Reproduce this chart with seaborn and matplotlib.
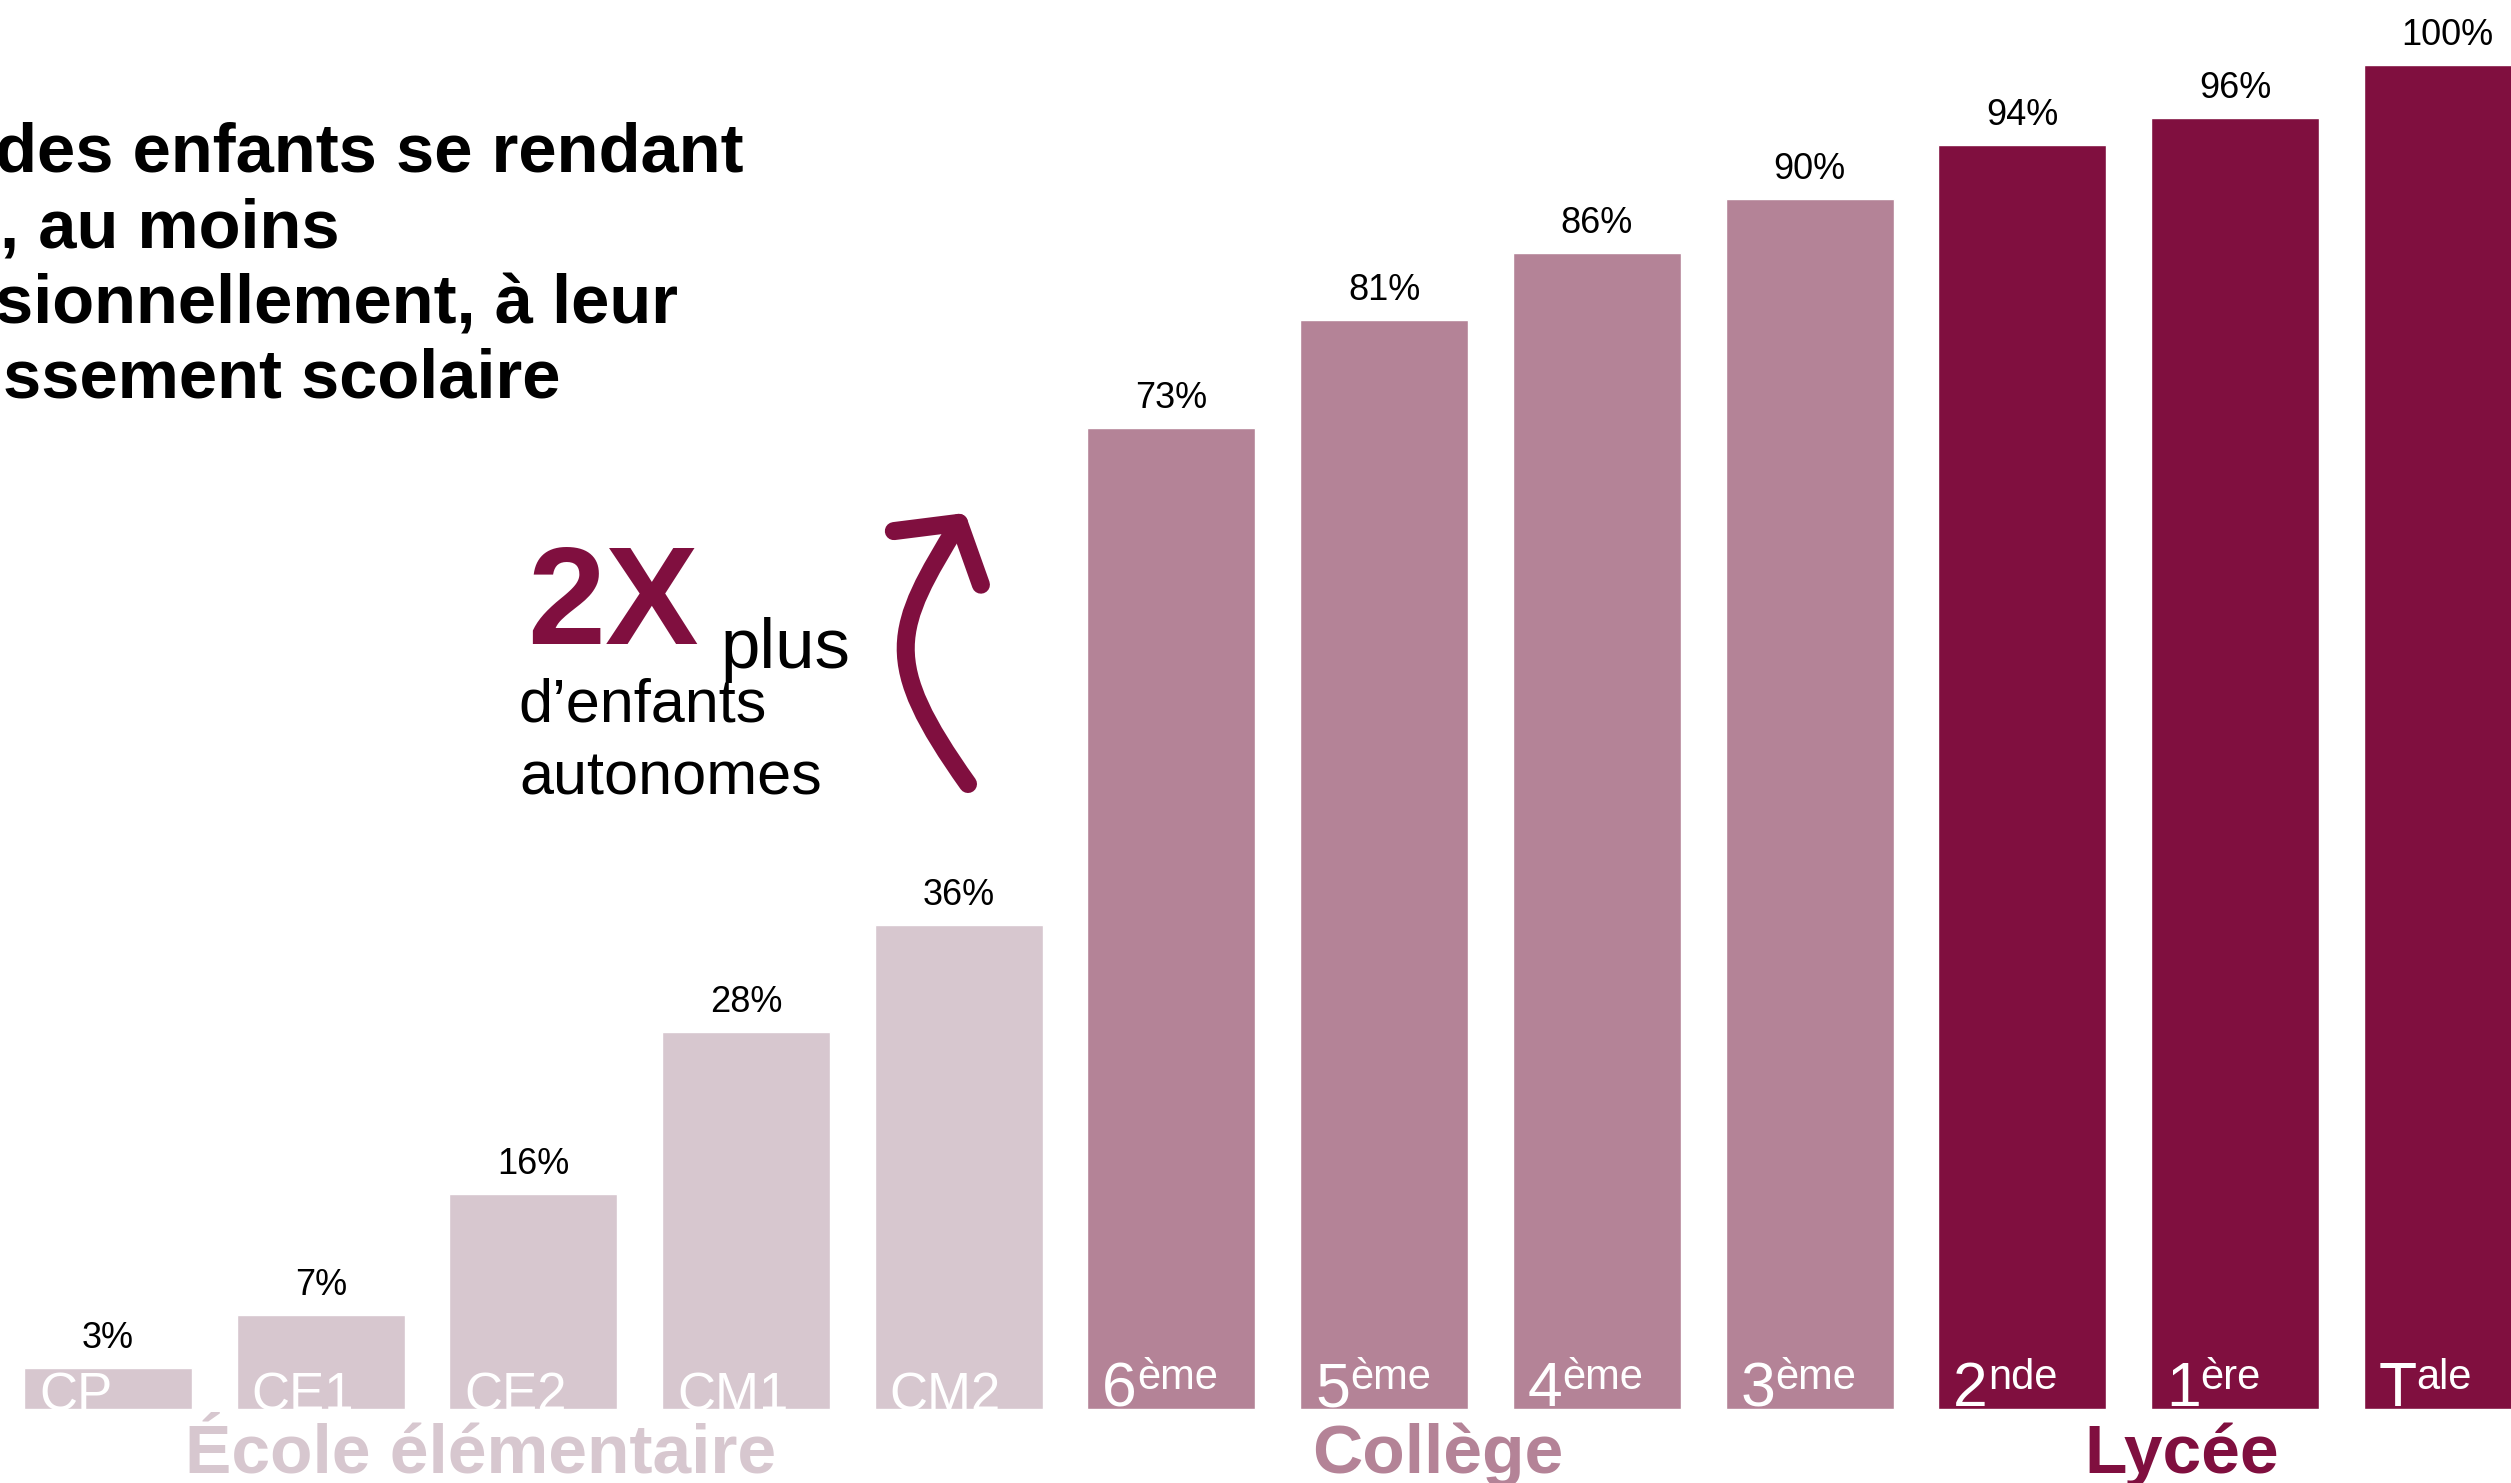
import matplotlib
matplotlib.use("Agg")
import matplotlib.pyplot as plt
from matplotlib.patches import FancyArrowPatch
from matplotlib.path import Path
import seaborn as sns
import pandas as pd

# ---------------- data ----------------
grades = ["CP", "CE1", "CE2", "CM1", "CM2", "6ème", "5ème", "4ème", "3ème",
          "2nde", "1ère", "Tale"]
grade_base = ["CP", "CE1", "CE2", "CM1", "CM2", "6", "5", "4", "3", "2", "1", "T"]
grade_sup = ["", "", "", "", "", "ème", "ème", "ème", "ème", "nde", "ère", "ale"]
values = [3, 7, 16, 28, 36, 73, 81, 86, 90, 94, 96, 100]
groups = ["École élémentaire"] * 5 + ["Collège"] * 4 + ["Lycée"] * 3
group_names = ["École élémentaire", "Collège", "Lycée"]
group_colors = ["#D7C7CF", "#B48397", "#800F3F"]
title_lines = ["des enfants se rendant", ", au moins",
               "sionnellement, à leur", "ssement scolaire"]
callout_big = "2X"
callout_lines = ["plus", "d’enfants", "autonomes"]

# ---------------- style ----------------
sns.set_theme(style="white")
plt.rcParams["font.family"] = ["Liberation Sans", "DejaVu Sans"]

W, H = 2511, 1483
fig = plt.figure(figsize=(W / 100, H / 100), dpi=100)
ax = fig.add_axes([0, 0, 1, 1])

df = pd.DataFrame({"grade": grades, "value": values, "group": groups})
palette = dict(zip(group_names, group_colors))
sns.barplot(data=df, x="grade", y="value", hue="group", palette=palette,
            dodge=False, width=0.79, saturation=1, legend=False, ax=ax)

ax.set_xlim(-0.508, 11.298)
px_per_unit = 13.44
y0_from_bottom = 74.3
ax.set_ylim(-y0_from_bottom / px_per_unit, (H - y0_from_bottom) / px_per_unit)
ax.axis("off")


def fx(px):
    return px / W


def fy(py):
    return 1 - py / H


# value labels
for i, v in enumerate(values):
    ax.annotate(f"{v}%", xy=(i, v), xytext=(0, 14.4), textcoords="offset points",
                ha="center", va="baseline", fontsize=26, color="black")

# grade labels inside bars (white, superscripts)
half_w = 0.79 / 2
for i, (b, s) in enumerate(zip(grade_base, grade_sup)):
    left = i - half_w + 0.07
    if s:
        t = ax.text(left, 0.2, b, ha="left", va="baseline", fontsize=45,
                    color="white", clip_on=True)
        ax.annotate(s, xy=(1.0, 0.2), xycoords=(t, "data"),
                    xytext=(0, 12.5), textcoords="offset points",
                    ha="left", va="baseline", fontsize=30, color="white",
                    annotation_clip=False)
    else:
        ax.text(left, -0.1, b, ha="left", va="baseline", fontsize=38,
                color="white", clip_on=True)

# group labels
group_centers = [2, 6.5, 10]
for name, c, col in zip(group_names, group_centers, group_colors):
    ax.text(c - 0.25, -4.78, name, ha="center", va="baseline", fontsize=50,
            fontweight="bold", color=col, clip_on=False)

# title (cut at left edge as in the reference)
for line, base, x0 in zip(title_lines, [172, 248, 323, 398], [-5, 0, -5, 3]):
    fig.text(fx(x0), fy(base), line, ha="left", va="baseline", fontsize=49.5,
             fontweight="bold", color="black")

# callout
dark = group_colors[2]
fig.text(fx(527), fy(644), callout_big, ha="left", va="baseline", fontsize=101,
         fontweight="bold", color=dark)
fig.text(fx(720), fy(668), callout_lines[0], ha="left", va="baseline",
         fontsize=51, color="black")
fig.text(fx(518), fy(722), callout_lines[1], ha="left", va="baseline",
         fontsize=44, color="black")
fig.text(fx(519), fy(795), callout_lines[2], ha="left", va="baseline",
         fontsize=44, color="black")

# curved arrow (cubic Bezier, pixel positions converted to figure fraction)
pts = [(968, 784), (880, 660), (893, 630), (965, 513)]
arrow_path = Path([(fx(x), fy(y)) for x, y in pts],
                  [Path.MOVETO, Path.CURVE4, Path.CURVE4, Path.CURVE4])
arrow = FancyArrowPatch(path=arrow_path, transform=fig.transFigure,
                        arrowstyle="->,head_length=0.74,head_width=0.92",
                        mutation_scale=40, lw=13, color=dark,
                        capstyle="round", joinstyle="round")
fig.add_artist(arrow)

fig.savefig("out.png", dpi=100, facecolor="white")
